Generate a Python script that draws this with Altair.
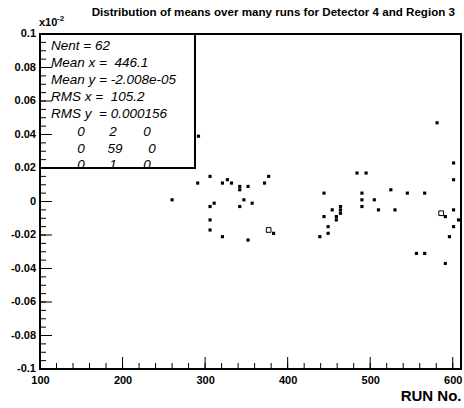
import altair as alt
import pandas as pd

# ---- data (y in units of 10^-2) ----
run_x = [260, 291, 292, 306, 321, 327, 332, 342, 342, 352, 347, 357, 342, 311,
         306, 306, 306, 321, 352, 372, 377, 383, 444, 439, 444, 449, 449, 454,
         459, 459, 464, 464, 464, 484, 495, 490, 490, 490, 505, 510, 525, 530,
         545, 566, 556, 566, 581, 591, 591, 596, 601, 601, 601, 601, 607]
mean_y = [0.001, 0.011, 0.039, 0.015, 0.011, 0.013, 0.011, 0.009, 0.007, 0.009,
          0.001, -0.001, -0.003, -0.001, -0.003, -0.011, -0.017, -0.021, -0.023,
          0.011, 0.015, -0.019, 0.005, -0.021, -0.009, -0.015, -0.019, -0.005,
          -0.009, -0.011, -0.003, -0.005, -0.007, 0.017, 0.017, 0.005, 0.001,
          -0.003, 0.001, -0.005, 0.007, -0.005, 0.005, 0.005, -0.031, -0.031,
          0.047, -0.009, -0.037, -0.021, 0.023, 0.013, -0.005, -0.015, -0.011]
open_x = [377, 586]
open_y = [-0.017, -0.007]

x_major = [100, 200, 300, 400, 500, 600]
x_minor = list(range(120, 611, 20))
y_major = [-0.1, -0.08, -0.06, -0.04, -0.02, 0, 0.02, 0.04, 0.06, 0.08, 0.1]
y_labels = ["-0.1", "-0.08", "-0.06", "-0.04", "-0.02", "0",
            "0.02", "0.04", "0.06", "0.08", "0.1"]
y_minor = [round(-0.1 + 0.005 * i, 3) for i in range(41)]

title_text = "Distribution of means over many runs for Detector 4 and Region 3"
x_title = "RUN No."
NB = "\u00a0"
stats_lines = ["Nent = 62", "Mean x = " + NB + "446.1", "Mean y = -2.008e-05",
               "RMS x = " + NB + "105.2", "RMS y " + NB + "= 0.000156"]
stats_matrix = [["0", "2", "0"], ["0", "59", "0"], ["0", "1", "0"]]

W, H = 421, 335
FONT = "Liberation Sans"

xs = alt.Scale(domain=[100, 610], nice=False, zero=False)
ys = alt.Scale(domain=[-0.1, 0.1], nice=False, zero=False)

pts = pd.DataFrame({"x": run_x, "y": mean_y})
opts = pd.DataFrame({"x": open_x, "y": open_y})

points = alt.Chart(pts).mark_square(size=10, color="black", opacity=1).encode(
    x=alt.X("x:Q", scale=xs,
            axis=alt.Axis(values=x_major, ticks=False, domain=False, grid=False,
                          labelFont=FONT, labelFontWeight="bold", labelFontSize=11,
                          labelColor="black", labelPadding=5, labelFlush=False,
                          labelOverlap=False, title=x_title, titleFont=FONT,
                          titleFontSize=15, titleFontWeight="bold", titleColor="black",
                          titleAnchor="end", titlePadding=3)),
    y=alt.Y("y:Q", scale=ys,
            axis=alt.Axis(values=y_major, ticks=False, domain=False, grid=False,
                          labels=False, title="")),
)

open_pts = alt.Chart(opts).mark_square(size=22, filled=False, color="black",
                                        strokeWidth=1, opacity=1).encode(
    x=alt.X("x:Q", scale=xs), y=alt.Y("y:Q", scale=ys))

# y tick labels
ylab = alt.Chart(pd.DataFrame({"y": y_major, "t": y_labels})).mark_text(
    align="right", baseline="middle", font=FONT, fontSize=11, fontWeight="bold",
    color="black", dx=-4).encode(y=alt.Y("y:Q", scale=ys), x=alt.value(0), text="t:N")

# stats box
box = alt.Chart(pd.DataFrame({"a": [0]})).mark_rect(
    fill="white", stroke="black", strokeWidth=2).encode(
    x=alt.value(0), x2=alt.value(155), y=alt.value(0), y2=alt.value(134))

stats_df = pd.DataFrame({"t": stats_lines, "row": [0, 1, 2, 3, 4]})
stats_text = alt.Chart(stats_df).transform_calculate(py="12 + datum.row * 17").mark_text(
    align="left", baseline="middle", font=FONT, fontSize=13.5, fontStyle="italic",
    color="black").encode(text="t:N", x=alt.value(11), y=alt.Y("py:Q", scale=None))

cells = []
col_px = [[41, 73, 107], [41, 75, 112], [41, 73, 107]]
row_py = [98, 115, 131]
for r, row in enumerate(stats_matrix):
    for c, v in enumerate(row):
        cells.append({"t": v, "px": col_px[r][c], "py": row_py[r]})
mat_text = alt.Chart(pd.DataFrame(cells)).mark_text(
    align="center", baseline="middle", font=FONT, fontSize=13.5, fontStyle="italic",
    color="black").encode(text="t:N", x=alt.X("px:Q", scale=None),
                          y=alt.Y("py:Q", scale=None))

# ticks (inward, ROOT style)
yt_major = alt.Chart(pd.DataFrame({"y": y_major})).mark_rule(color="black", strokeWidth=1).encode(
    y=alt.Y("y:Q", scale=ys), x=alt.value(0), x2=alt.value(12))
yt_minor = alt.Chart(pd.DataFrame({"y": y_minor})).mark_rule(color="black", strokeWidth=1).encode(
    y=alt.Y("y:Q", scale=ys), x=alt.value(0), x2=alt.value(6))
xt_major = alt.Chart(pd.DataFrame({"x": x_major})).mark_rule(color="black", strokeWidth=1).encode(
    x=alt.X("x:Q", scale=xs), y=alt.value(H), y2=alt.value(H - 12))
xt_minor = alt.Chart(pd.DataFrame({"x": x_minor})).mark_rule(color="black", strokeWidth=1).encode(
    x=alt.X("x:Q", scale=xs), y=alt.value(H), y2=alt.value(H - 6))

# title and exponent
title = alt.Chart(pd.DataFrame({"t": [title_text]})).mark_text(
    align="right", baseline="middle", font=FONT, fontSize=11.6, fontWeight="bold",
    color="black").encode(text="t:N", x=alt.value(415), y=alt.value(-21))
expo = alt.Chart(pd.DataFrame({"t": ["x10"]})).mark_text(
    align="left", baseline="alphabetic", font=FONT, fontSize=11, fontWeight="bold",
    color="black").encode(text="t:N", x=alt.value(-1), y=alt.value(-8))
expo2 = alt.Chart(pd.DataFrame({"t": ["-2"]})).mark_text(
    align="left", baseline="alphabetic", font=FONT, fontSize=8, fontWeight="bold",
    color="black").encode(text="t:N", x=alt.value(17), y=alt.value(-13))

chart = alt.layer(points, open_pts, ylab, box, stats_text, mat_text,
                  yt_major, yt_minor, xt_major, xt_minor, title, expo, expo2).properties(
    width=W, height=H,
    autosize=alt.AutoSizeParams(type="none"),
    padding={"left": 40, "top": 34, "right": 3, "bottom": 39},
    background="white",
).configure_view(stroke="black", strokeWidth=2).configure_axis(
    labelOverlap=False, labelBound=False)

chart.save("out.html", embed_options={"renderer": "svg", "actions": False})
